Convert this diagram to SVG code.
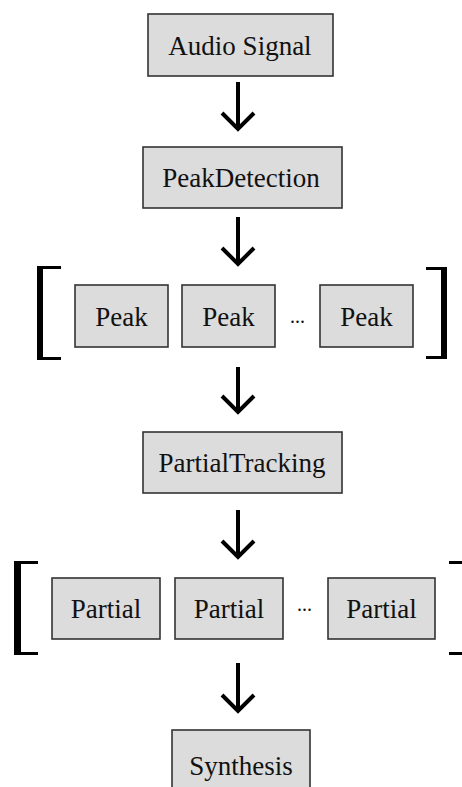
<svg xmlns="http://www.w3.org/2000/svg" width="462" height="787" viewBox="0 0 462 787">
<defs>
<style>
.box{fill:#dcdcdc;stroke:#333;stroke-width:1.6}
text{font-family:'Liberation Serif',Tinos,'Times New Roman',Times,'DejaVu Serif',serif;fill:#111;text-anchor:middle}
.t{font-size:27px}
.dots{font-size:20px}
.arr{fill:none;stroke:#000;stroke-width:4;stroke-linejoin:miter}
.br{fill:#000}
</style>
</defs>
<rect width="462" height="787" fill="#fff"/>
<g id="audio-signal"><rect class="box" x="148" y="14" width="185" height="62"/><text class="t" x="240" y="55" font-family="Liberation Serif, serif">Audio Signal</text></g>
<g id="peak-detection"><rect class="box" x="143" y="147" width="199" height="61"/><text class="t" x="241" y="187">PeakDetection</text></g>
<g id="peaks">
<path class="br" d="M37,266H61V269H43V357H61V360H37Z"/>
<path class="br" d="M447,267H426V270H441V356H426V359H447Z"/>
<g id="peak-1"><rect class="box" x="75" y="285" width="93" height="62"/><text class="t" x="121.5" y="326">Peak</text></g>
<g id="peak-2"><rect class="box" x="182" y="285" width="93" height="62"/><text class="t" x="228.5" y="326">Peak</text></g>
<text class="dots" x="297.5" y="323">...</text>
<g id="peak-3"><rect class="box" x="320" y="285" width="93" height="62"/><text class="t" x="366.5" y="326">Peak</text></g>
</g>
<g id="partial-tracking"><rect class="box" x="143" y="432" width="199" height="61"/><text class="t" x="242" y="472">PartialTracking</text></g>
<g id="partials">
<path class="br" d="M14,561H38V564H21V652H38V655H14Z"/>
<path class="br" d="M449,561H470V655H449V652H466V564H449Z"/>
<g id="partial-1"><rect class="box" x="52" y="578" width="108" height="61"/><text class="t" x="106" y="618">Partial</text></g>
<g id="partial-2"><rect class="box" x="175" y="578" width="108" height="61"/><text class="t" x="229" y="618">Partial</text></g>
<text class="dots" x="304.5" y="611">...</text>
<g id="partial-3"><rect class="box" x="328" y="578" width="107" height="61"/><text class="t" x="381.5" y="618">Partial</text></g>
</g>
<g id="synthesis"><rect class="box" x="172" y="730" width="138" height="64"/><text class="t" x="241" y="775">Synthesis</text></g>
<g id="connectors">
<path class="arr" d="M238,82V128M222,113L238,129L254,113"/>
<path class="arr" d="M238,217V263M222,248L238,264L254,248"/>
<path class="arr" d="M238,367V411M222,396L238,412L254,396"/>
<path class="arr" d="M238,510V556M222,541L238,557L254,541"/>
<path class="arr" d="M238,663V710M222,695L238,711L254,695"/>
</g>
</svg>
